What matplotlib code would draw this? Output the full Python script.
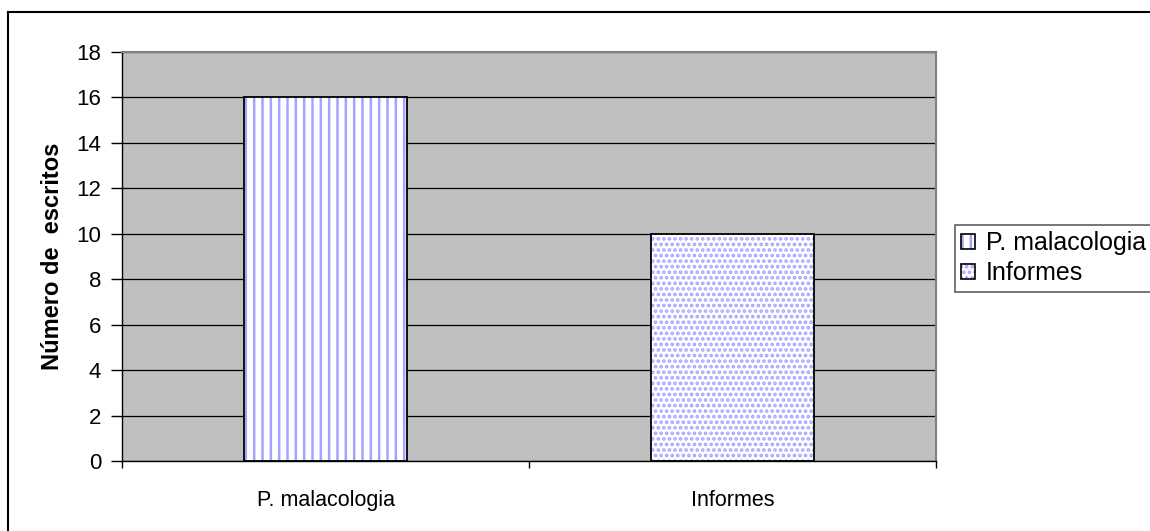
import matplotlib
matplotlib.use('Agg')
import matplotlib.pyplot as plt
from matplotlib.patches import Patch
from matplotlib.lines import Line2D

categories = ["P. malacologia", "Informes"]
values     = [16, 10]
hatches    = ["||", "..."]

plt.rcParams['font.family'] = ['Liberation Sans', 'DejaVu Sans']
plt.rcParams['hatch.linewidth'] = 1.8

HATCH_BLUE = '#a4a4ff'

fig = plt.figure(figsize=(11.5, 5.31), dpi=100)
ax = fig.add_axes([0.1061, 0.1318, 0.7078, 0.7703])
ax.set_facecolor('#c0c0c0')

x = range(len(categories))
# hatched fill first, black outline on top
fills = ax.bar(x, values, width=0.4, color='white', edgecolor=HATCH_BLUE, linewidth=0, zorder=3)
for b, h in zip(fills, hatches):
    b.set_hatch(h)
ax.bar(x, values, width=0.4, fill=False, edgecolor='black', linewidth=1.3, zorder=4)

ax.set_xlim(-0.5, 1.5)
ax.set_ylim(0, 18)
ax.set_yticks(range(0, 19, 2))
ax.yaxis.grid(True, color='black', linewidth=0.9, zorder=0)
ax.set_axisbelow(True)

# category labels centred, tick marks on category boundaries
ax.set_xticks([-0.5, 0.5, 1.5])
ax.set_xticklabels([])
ax.set_xticks(list(x), minor=True)
ax.set_xticklabels(categories, minor=True, fontsize=15.5)
ax.tick_params(axis='x', which='minor', length=0, pad=21)
ax.tick_params(axis='x', which='major', length=5, width=1, direction='out')
ax.tick_params(axis='y', length=8, width=1, direction='out', labelsize=16, pad=7)

for side in ['top', 'right']:
    ax.spines[side].set_color('#808080')
    ax.spines[side].set_linewidth(1.5)
ax.spines['left'].set_linewidth(1)
ax.spines['bottom'].set_linewidth(1)

ax.set_ylabel("Número de  escritos", fontsize=17, fontweight='bold', labelpad=9)

handles = []
for h in hatches:
    hp = Patch(facecolor='white', edgecolor=HATCH_BLUE, linewidth=0, hatch=h)
    op = Patch(fill=False, edgecolor='black', linewidth=1.2)
    handles.append((hp, op))
leg = fig.legend(handles=handles, labels=categories, loc='upper left',
                 bbox_to_anchor=(955 / 1150, 1 - 225 / 531),
                 fontsize=18, handlelength=0.55, handleheight=0.55, handletextpad=0.45,
                 borderpad=0.25, labelspacing=0.25, fancybox=False, framealpha=1,
                 borderaxespad=0)
leg.get_frame().set_edgecolor('#606060')
leg.get_frame().set_linewidth(1.2)

# outer chart border (left and top only)
fig.add_artist(Line2D([7.5 / 1150, 7.5 / 1150], [0, 1 - 11.5 / 531], color='black', lw=1.5,
                      transform=fig.transFigure))
fig.add_artist(Line2D([7.5 / 1150, 1], [1 - 11.5 / 531, 1 - 11.5 / 531], color='black', lw=1.5,
                      transform=fig.transFigure))

fig.savefig("out.png", dpi=100)
